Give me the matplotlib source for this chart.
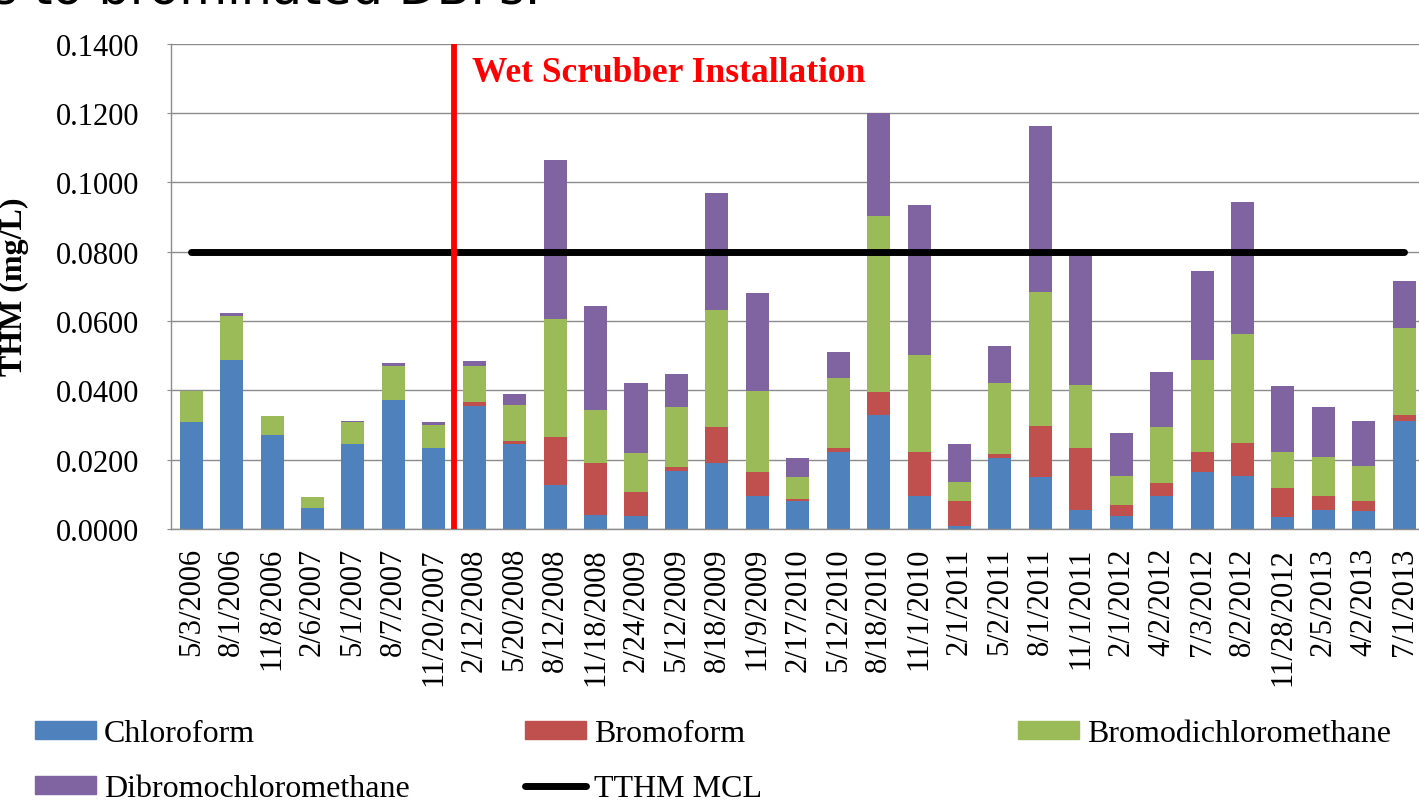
import matplotlib
matplotlib.use("Agg")
import matplotlib.pyplot as plt
from matplotlib.patches import Patch
from matplotlib.lines import Line2D
import numpy as np

# sample dates (x categories)
dates = ["5/3/2006", "8/1/2006", "11/8/2006", "2/6/2007", "5/1/2007", "8/7/2007",
         "11/20/2007", "2/12/2008", "5/20/2008", "8/12/2008", "11/18/2008", "2/24/2009",
         "5/12/2009", "8/18/2009", "11/9/2009", "2/17/2010", "5/12/2010", "8/18/2010",
         "11/1/2010", "2/1/2011", "5/2/2011", "8/1/2011", "11/1/2011", "2/1/2012",
         "4/2/2012", "7/3/2012", "8/2/2012", "11/28/2012", "2/5/2013", "4/2/2013",
         "7/1/2013"]

# THM species concentrations (mg/L)
chloroform = [0.0308, 0.0487, 0.0271, 0.0060, 0.0245, 0.0372, 0.0234, 0.0356, 0.0245, 0.0127,
              0.0040, 0.0037, 0.0168, 0.0190, 0.0096, 0.0082, 0.0223, 0.0330, 0.0094, 0.0010,
              0.0204, 0.0149, 0.0055, 0.0037, 0.0094, 0.0163, 0.0154, 0.0034, 0.0056, 0.0053,
              0.0312]
bromoform = [0.0, 0.0, 0.0, 0.0, 0.0, 0.0, 0.0, 0.0011, 0.0010, 0.0137,
             0.0150, 0.0069, 0.0010, 0.0105, 0.0069, 0.0005, 0.0012, 0.0064, 0.0127, 0.0072,
             0.0012, 0.0149, 0.0180, 0.0032, 0.0039, 0.0058, 0.0094, 0.0083, 0.0040, 0.0029,
             0.0018]
bromodichloromethane = [0.0091, 0.0128, 0.0054, 0.0031, 0.0063, 0.0099, 0.0067, 0.0104, 0.0103, 0.0342,
                        0.0154, 0.0112, 0.0175, 0.0337, 0.0234, 0.0064, 0.0199, 0.0509, 0.0281, 0.0054,
                        0.0205, 0.0384, 0.0180, 0.0085, 0.0162, 0.0267, 0.0314, 0.0104, 0.0113, 0.0101,
                        0.0249]
dibromochloromethane = [0.0, 0.0007, 0.0, 0.0, 0.0004, 0.0008, 0.0007, 0.0013, 0.0031, 0.0458,
                        0.0300, 0.0202, 0.0094, 0.0337, 0.0281, 0.0053, 0.0075, 0.0298, 0.0432, 0.0109,
                        0.0108, 0.0481, 0.0380, 0.0122, 0.0157, 0.0255, 0.0380, 0.0190, 0.0142, 0.0128,
                        0.0137]
tthm_mcl = [0.080] * len(dates)
scrubber_position = 6.5  # between 11/20/2007 and 2/12/2008

series_names = ["Chloroform", "Bromoform", "Bromodichloromethane", "Dibromochloromethane"]
series_colors = ["#4F81BD", "#C0504D", "#9BBB59", "#8064A2"]

W, H = 1419, 803
fig = plt.figure(figsize=(W / 100, H / 100), dpi=100)
ax = fig.add_axes([171 / W, 1 - 530 / H, 1253.5 / W, 485.5 / H])

serif = "Liberation Serif"
x = np.arange(len(dates))
bottom = np.zeros(len(dates))
for vals, name, col in zip([chloroform, bromoform, bromodichloromethane, dibromochloromethane],
                           series_names, series_colors):
    ax.bar(x, vals, 0.57, bottom=bottom, color=col, label=name, zorder=2)
    bottom += np.array(vals)

ax.plot(x, tthm_mcl, color="black", lw=5, solid_capstyle="round", zorder=4)
ax.axvline(scrubber_position, color="#FF0000", lw=4.2, zorder=5)
ax.text(6.95, 0.1292, "Wet Scrubber Installation", color="#FF0000", fontsize=25.5,
        fontweight="bold", family=serif, va="baseline", ha="left")

ax.set_xlim(-0.5, len(dates) - 0.5)
ax.set_ylim(0, 0.14)
ax.set_yticks(np.arange(0, 0.1401, 0.02))
ax.set_yticklabels([f"{v:.4f}" for v in np.arange(0, 0.1401, 0.02)], family=serif, fontsize=22)
ax.set_xticks(x)
ax.set_xticklabels(dates, rotation=90, family=serif, fontsize=22)
ax.tick_params(axis="x", length=0, pad=13)
ax.tick_params(axis="y", length=3, color="#8C8C8C", pad=20)
ax.yaxis.grid(True, color="#8C8C8C", lw=1.0, zorder=0)
ax.set_axisbelow(True)
for s in ["top", "right"]:
    ax.spines[s].set_visible(False)
for s in ["left", "bottom"]:
    ax.spines[s].set_color("#8C8C8C")
    ax.spines[s].set_linewidth(1.0)

ax.set_ylabel("THM (mg/L)", family=serif, fontsize=23, fontweight="bold")
ax.yaxis.set_label_coords(-0.113, 0.5)

# legend, laid out like the spreadsheet legend (3 columns, 2 rows)
handles = [Patch(color=c) for c in series_colors] + [Line2D([], [], color="black", lw=5, solid_capstyle="round")]
labels = series_names + ["TTHM MCL"]
spots = [(35, 735), (525, 735), (1018, 735), (35, 790), (525, 790)]
for h, lab, (px, py) in zip(handles, labels, spots):
    fig.legend([h], [lab], loc="center left", bbox_to_anchor=(px / W, 1 - py / H),
               frameon=False, prop={"family": serif, "size": 23}, borderpad=0,
               borderaxespad=0, handlelength=1.9, handleheight=0.5, handletextpad=0.25)

# slide title, cut off by the top of the picture as in the original slide
fig.text(-8 / W, 1 - 3 / H, "s to brominated DBPs.", fontsize=35.5, family="DejaVu Sans",
         va="baseline", ha="left")

fig.savefig("out.png", dpi=100)
